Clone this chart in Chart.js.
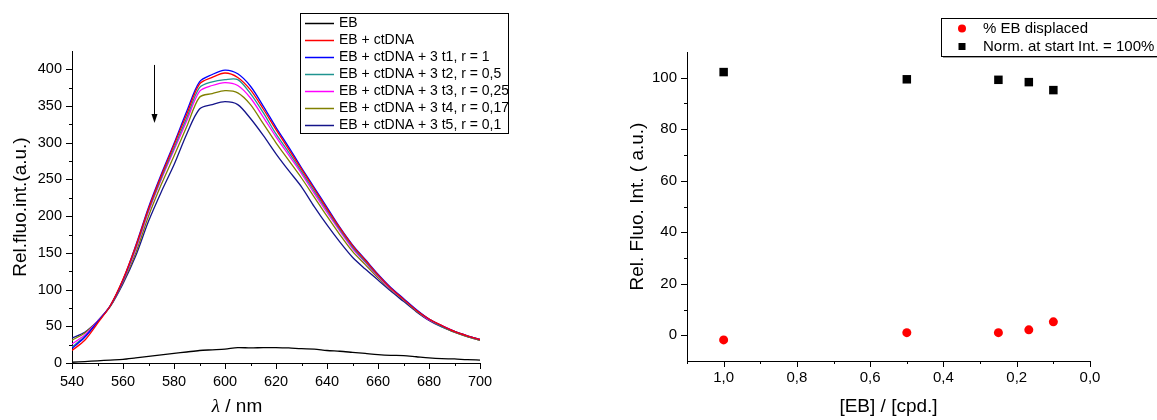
<!DOCTYPE html>
<html>
<head>
<meta charset="utf-8">
<script src="https://cdn.jsdelivr.net/npm/chart.js@4.4.1/dist/chart.umd.min.js"></script>
<style>
  html, body { margin: 0; padding: 0; background: #fff; }
  #wrap { position: relative; width: 1157px; height: 420px; overflow: hidden; }
  canvas { position: absolute; top: 0; }
  #spectra { left: 0; }
  #displace { left: 580px; }
</style>
</head>
<body>
<div id="wrap">
  <canvas id="spectra" width="580" height="420"></canvas>
  <canvas id="displace" width="577" height="420"></canvas>
</div>
<script>
// ---- spectra (left panel) ----
const WAVELENGTH = [540, 545, 550, 555, 560, 565, 570, 575, 580, 585, 590, 595, 600, 605, 610, 615, 620,
  625, 630, 635, 640, 645, 650, 655, 660, 665, 670, 675, 680, 685, 690, 695, 700];

const EB_ONLY = [1, 2, 3, 4, 5, 7, 9, 11, 13, 15, 17, 18, 19, 21, 20.5, 21, 21,
  20.5, 19.5, 19, 17, 16, 14.5, 13, 11.5, 10.5, 10, 8.5, 7, 6, 5.5, 4.5, 4];
const EB_CTDNA = [17, 31, 54, 78, 114, 159, 210, 255, 297, 339, 380, 389, 395, 389, 372, 346, 318,
  291, 264, 237, 210, 184, 160, 140, 120, 102, 87, 72, 60, 51, 43, 37, 32];
const T1 = [20, 35, 56, 78, 113, 160, 212, 257, 299, 343, 383, 393, 399, 394, 377, 350, 321,
  294, 266, 239, 212, 185, 161, 141, 121, 103, 88, 73, 60, 51, 43, 37, 32];
const T2 = [22, 36, 56, 78, 113, 157, 208, 252, 293, 334, 375, 383, 386, 386, 367, 341, 312,
  287, 261, 234, 208, 182, 158, 138, 119, 102, 87, 72, 60, 50, 43, 37, 32];
const T3 = [26, 38, 57, 78, 112, 155, 206, 250, 290, 330, 370, 378, 382, 378, 361, 335, 308,
  283, 258, 231, 205, 180, 156, 137, 118, 101, 87, 72, 59, 51, 43, 37, 32];
const T4 = [31, 41, 57, 77, 110, 150, 200, 243, 282, 322, 362, 367, 371, 368, 352, 326, 300,
  276, 252, 226, 200, 175, 152, 134, 116, 100, 86, 71, 59, 50, 42, 36, 31];
const T5 = [34, 42, 57, 77, 108, 146, 193, 233, 270, 312, 346, 352, 356, 352, 333, 310, 285,
  262, 240, 213, 188, 165, 144, 128, 113, 98, 84, 70, 58, 49, 42, 36, 31];

const SPECTRA_LABELS = ['EB', 'EB + ctDNA', 'EB + ctDNA + 3 t1, r = 1', 'EB + ctDNA + 3 t2, r = 0,5',
  'EB + ctDNA + 3 t3, r = 0,25', 'EB + ctDNA + 3 t4, r = 0,17', 'EB + ctDNA + 3 t5, r = 0,1'];
const SPECTRA_COLORS = ['#000000', '#ff0000', '#0000ff', '#1f9490', '#ff00ff', '#808000', '#14148a'];

// arrow annotation (nm, intensity from -> to)
const ARROW_NM = 572;
const ARROW_FROM = 406;
const ARROW_TO = 327;

// ---- displacement (right panel) ----
const EB_RATIO = [1.0, 0.5, 0.25, 0.167, 0.1];
const DISPLACED = [-1.8, 1.0, 1.0, 2.1, 5.2];
const NORMALISED = [102.2, 99.4, 99.2, 98.3, 95.2];

const FONT = "'Liberation Sans', Arial, sans-serif";
Chart.defaults.font.family = FONT;
Chart.defaults.color = '#000';

// outward tick marks, long for labelled ticks and short for minor ones
const axisTicks = {
  id: 'axisTicks',
  afterDraw(chart, args, opts) {
    const ctx = chart.ctx;
    ctx.save();
    ctx.strokeStyle = '#000';
    ctx.lineWidth = 1;
    Object.values(chart.scales).forEach(scale => {
      const horiz = scale.isHorizontal();
      scale.ticks.forEach(t => {
        const major = t.label !== '' && t.label != null;
        if (!major && !horiz && (t.value === scale.max || t.value === scale.min)) return;
        const len = major ? opts.major : opts.minor;
        const p = Math.round(scale.getPixelForValue(t.value)) + 0.5;
        ctx.beginPath();
        if (horiz) {
          ctx.moveTo(p, scale.top);
          ctx.lineTo(p, scale.top + len);
        } else {
          ctx.moveTo(scale.right, p);
          ctx.lineTo(scale.right - len, p);
        }
        ctx.stroke();
      });
    });
    ctx.restore();
  }
};

// boxed legend like the Origin one
const boxLegend = {
  id: 'boxLegend',
  afterDraw(chart, args, o) {
    const ctx = chart.ctx;
    ctx.save();
    if (o.shadow) {
      ctx.fillStyle = '#a0a0a0';
      ctx.fillRect(o.x + 2, o.y + 2, o.w, o.h);
    }
    ctx.fillStyle = '#fff';
    ctx.fillRect(o.x, o.y, o.w, o.h);
    ctx.strokeStyle = '#000';
    ctx.lineWidth = 1;
    ctx.strokeRect(o.x + 0.5, o.y + 0.5, o.w, o.h);
    ctx.font = o.font;
    ctx.textBaseline = 'middle';
    chart.data.datasets.forEach((ds, i) => {
      const y = Math.round(o.y + o.first + i * o.row) + 0.5;
      if (o.kind === 'line') {
        ctx.strokeStyle = ds.borderColor;
        ctx.lineWidth = 1.5;
        ctx.beginPath();
        ctx.moveTo(o.x + o.sx, y);
        ctx.lineTo(o.x + o.sx + o.len, y);
        ctx.stroke();
      } else {
        ctx.fillStyle = ds.backgroundColor;
        if (ds.pointStyle === 'circle') {
          ctx.beginPath();
          ctx.arc(o.x + o.sx, y, 4, 0, Math.PI * 2);
          ctx.fill();
        } else {
          ctx.fillRect(o.x + o.sx - 3.5, y - 3.5, 7, 7);
        }
      }
      ctx.fillStyle = '#000';
      ctx.fillText(ds.label, o.x + o.tx, y);
    });
    ctx.restore();
  }
};

// downward arrow and the italic lambda axis title on the spectra panel
const spectraExtras = {
  id: 'spectraExtras',
  afterDraw(chart) {
    const ctx = chart.ctx;
    const xs = chart.scales.x, ys = chart.scales.y;
    const ax = Math.round(xs.getPixelForValue(ARROW_NM)) + 0.5;
    const y1 = ys.getPixelForValue(ARROW_FROM);
    const y2 = ys.getPixelForValue(ARROW_TO);
    ctx.save();
    ctx.strokeStyle = '#000';
    ctx.fillStyle = '#000';
    ctx.lineWidth = 1;
    ctx.beginPath();
    ctx.moveTo(ax, y1);
    ctx.lineTo(ax, y2 - 6);
    ctx.stroke();
    ctx.beginPath();
    ctx.moveTo(ax, y2);
    ctx.lineTo(ax - 3, y2 - 9);
    ctx.lineTo(ax + 3, y2 - 9);
    ctx.closePath();
    ctx.fill();

    const cx = chart.chartArea.left + 165;
    const fItal = "italic 19px 'Liberation Serif', serif";
    const fNorm = '19px ' + FONT;
    ctx.font = fItal;
    const w1 = ctx.measureText('λ').width;
    ctx.font = fNorm;
    const w2 = ctx.measureText(' / nm').width;
    let x = cx - (w1 + w2) / 2;
    ctx.textBaseline = 'middle';
    ctx.textAlign = 'left';
    ctx.font = fItal;
    ctx.fillText('λ', x, 407);
    ctx.font = fNorm;
    ctx.fillText(' / nm', x + w1, 407);
    ctx.restore();
  }
};

const plainGrid = { drawOnChartArea: false, drawTicks: false };
const axisBorder = { display: true, color: '#000', width: 1 };

new Chart(document.getElementById('spectra'), {
  type: 'line',
  data: {
    datasets: [EB_ONLY, EB_CTDNA, T1, T2, T3, T4, T5].map((arr, i) => ({
      label: SPECTRA_LABELS[i],
      data: arr.map((v, j) => ({ x: WAVELENGTH[j], y: v })),
      borderColor: SPECTRA_COLORS[i],
      borderWidth: 1.3,
      pointRadius: 0,
      tension: 0.3,
      fill: false
    }))
  },
  options: {
    responsive: false,
    animation: false,
    layout: { padding: { top: 51, right: 100, left: 0, bottom: 0 } },
    plugins: {
      legend: { display: false },
      tooltip: { enabled: false },
      axisTicks: { major: 6, minor: 3 },
      boxLegend: { x: 300, y: 13, w: 208, h: 120, first: 10, row: 17, kind: 'line',
        sx: 5, len: 29, tx: 39, font: '14px ' + FONT }
    },
    scales: {
      x: {
        type: 'linear', min: 540, max: 700,
        grid: plainGrid, border: axisBorder,
        ticks: {
          stepSize: 10, autoSkip: false, maxRotation: 0, padding: 10,
          font: { size: 14.5 },
          callback: v => (v % 20 === 0 ? String(v) : '')
        },
        afterFit: s => { s.height = 57; }
      },
      y: {
        min: 0, max: 425,
        grid: plainGrid, border: axisBorder,
        ticks: {
          stepSize: 25, autoSkip: false, padding: 10,
          font: { size: 14.5 },
          callback: v => (v % 50 === 0 && v <= 400 ? String(v) : '')
        },
        title: { display: true, text: 'Rel.fluo.int.(a.u.)', font: { size: 19 }, padding: { top: 9, bottom: 0 } },
        afterFit: s => { s.width = 72; }
      }
    }
  },
  plugins: [axisTicks, boxLegend, spectraExtras]
});

new Chart(document.getElementById('displace'), {
  type: 'scatter',
  data: {
    datasets: [
      {
        label: '% EB displaced',
        data: EB_RATIO.map((r, i) => ({ x: r, y: DISPLACED[i] })),
        pointStyle: 'circle',
        pointRadius: 4.5,
        backgroundColor: '#ff0000',
        borderColor: '#ff0000',
        borderWidth: 0
      },
      {
        label: 'Norm. at start Int. = 100%',
        data: EB_RATIO.map((r, i) => ({ x: r, y: NORMALISED[i] })),
        pointStyle: 'rect',
        pointRadius: 6,
        backgroundColor: '#000000',
        borderColor: '#000000',
        borderWidth: 0
      }
    ]
  },
  options: {
    responsive: false,
    animation: false,
    layout: { padding: { top: 52, right: 67, left: 0, bottom: 0 } },
    plugins: {
      legend: { display: false },
      tooltip: { enabled: false },
      axisTicks: { major: 6, minor: 3 },
      boxLegend: { x: 361, y: 18, w: 240, h: 38, first: 10, row: 18.4, kind: 'point', shadow: true,
        sx: 21, tx: 42, font: '15px ' + FONT }
    },
    scales: {
      x: {
        type: 'linear', min: 0, max: 1.1, reverse: true,
        grid: plainGrid, border: axisBorder,
        ticks: {
          stepSize: 0.1, autoSkip: false, maxRotation: 0, padding: 8,
          font: { size: 15 },
          callback: v => {
            const k = Math.round(v * 10);
            return k % 2 === 0 ? (k / 10).toFixed(1).replace('.', ',') : '';
          }
        },
        title: { display: true, text: '[EB] / [cpd.]', font: { size: 19 }, padding: { top: 0, bottom: 2 } },
        afterFit: s => { s.height = 59; }
      },
      y: {
        min: -10, max: 110,
        grid: plainGrid, border: axisBorder,
        ticks: {
          stepSize: 10, autoSkip: false, padding: 10,
          font: { size: 15 },
          callback: v => (v % 20 === 0 && v >= 0 && v <= 100 ? String(v) : '')
        },
        title: { display: true, text: 'Rel. Fluo. Int. ( a.u.)', font: { size: 19 }, padding: { top: 46, bottom: 0 } },
        afterFit: s => { s.width = 107; }
      }
    }
  },
  plugins: [axisTicks, boxLegend]
});
</script>
</body>
</html>
